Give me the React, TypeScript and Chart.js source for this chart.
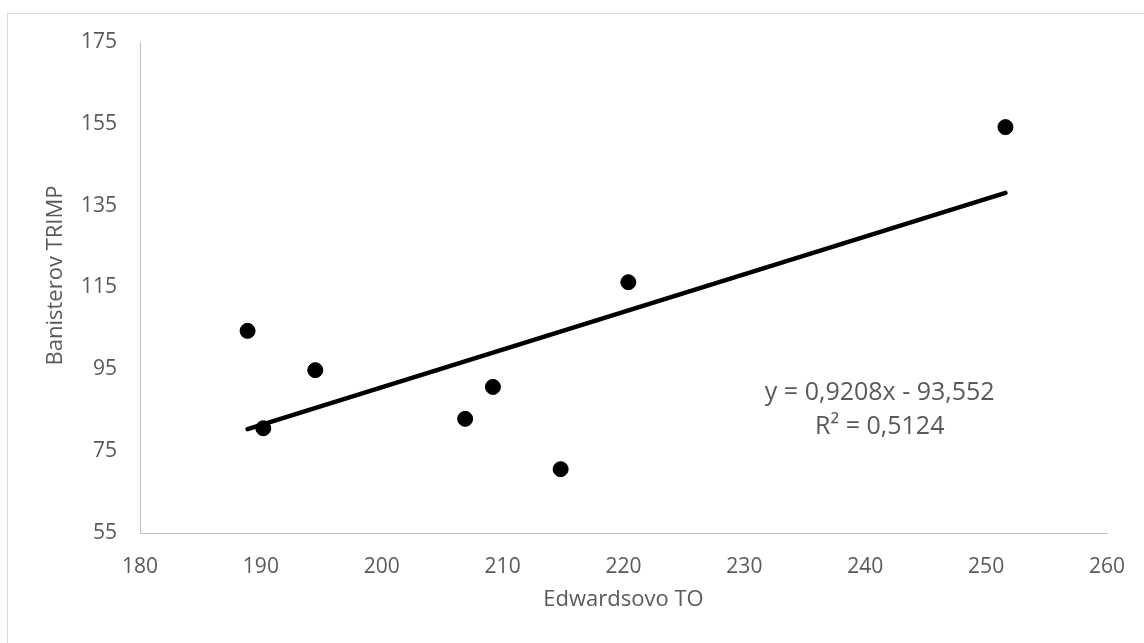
import React, { useEffect, useRef } from "react";
import { Chart, registerables } from "chart.js";

Chart.register(...registerables);

// Data
const edwardsTO = [188.9, 190.2, 194.5, 206.9, 209.2, 214.8, 220.4, 251.6];
const banisterTRIMP = [104.4, 80.6, 94.8, 82.9, 90.7, 70.6, 116.3, 154.2];
const trendSlope = 0.9208;
const trendIntercept = -93.552;
const equationLines = ["y = 0,9208x - 93,552", "R² = 0,5124"];
const equationAnchor = [241.2, 89.2];
const xAxisTitle = "Edwardsovo TO";
const yAxisTitle = "Banisterov TRIMP";
const xRange = [180, 260, 10];
const yRange = [55, 175, 20];

const TEXT = "#595959";
const AXIS = "#bfbfbf";
const FONT = "'Open Sans', 'DejaVu Sans', sans-serif";

export default function App() {
  const canvasRef = useRef<HTMLCanvasElement | null>(null);

  useEffect(() => {
    document.body.style.margin = "0";
    const canvas = canvasRef.current;
    if (!canvas) return;

    const points = edwardsTO.map((x, i) => ({ x, y: banisterTRIMP[i] }));
    const xMin = Math.min(...edwardsTO);
    const xMax = Math.max(...edwardsTO);
    const trend = [
      { x: xMin, y: trendSlope * xMin + trendIntercept },
      { x: xMax, y: trendSlope * xMax + trendIntercept },
    ];

    const textPlugin = {
      id: "texts",
      afterDatasetsDraw(chart: any) {
        const { ctx, scales } = chart;
        const cx = scales.x.getPixelForValue(equationAnchor[0]);
        const cy = scales.y.getPixelForValue(equationAnchor[1]);
        ctx.save();
        ctx.fillStyle = TEXT;
        ctx.font = `25px ${FONT}`;
        ctx.textAlign = "center";
        ctx.textBaseline = "middle";
        equationLines.forEach((line, i) => {
          ctx.fillText(line, cx, cy + i * 34);
        });
        // y axis title
        ctx.translate(56, (scales.y.top + scales.y.bottom) / 2 - 12);
        ctx.rotate(-Math.PI / 2);
        ctx.font = `22px ${FONT}`;
        ctx.fillText(yAxisTitle, 0, 0);
        ctx.restore();
      },
    };

    const chart = new Chart(canvas, {
      type: "scatter",
      data: {
        datasets: [
          {
            type: "line",
            label: "Trend",
            data: trend,
            borderColor: "#000000",
            borderWidth: 4.5,
            borderCapStyle: "round",
            pointRadius: 0,
            fill: false,
            order: 1,
          } as any,
          {
            type: "scatter",
            label: "TRIMP",
            data: points,
            backgroundColor: "#000000",
            borderColor: "#000000",
            pointRadius: 7.5,
            pointHoverRadius: 7.5,
            order: 2,
          },
        ],
      },
      options: {
        responsive: false,
        animation: false,
        devicePixelRatio: 1,
        layout: { padding: { left: 0, top: 42, right: 37, bottom: 0 } },
        plugins: {
          legend: { display: false },
          tooltip: { enabled: false },
        },
        scales: {
          x: {
            type: "linear",
            min: xRange[0],
            max: xRange[1],
            ticks: {
              stepSize: xRange[2],
              color: TEXT,
              font: { family: FONT, size: 21 },
              padding: 21,
              callback: (v: any) => String(v),
            },
            grid: { display: false, drawTicks: false },
            border: { display: true, color: AXIS, width: 1 },
            title: {
              display: true,
              text: xAxisTitle,
              color: TEXT,
              font: { family: FONT, size: 22 },
              padding: { top: 0, bottom: 30 },
            },
            afterFit: (scale: any) => {
              scale.height = 110;
              scale.paddingLeft = 0;
              scale.paddingRight = 0;
            },
          },
          y: {
            type: "linear",
            min: yRange[0],
            max: yRange[1],
            ticks: {
              stepSize: yRange[2],
              color: TEXT,
              font: { family: FONT, size: 21 },
              padding: 23,
              callback: (v: any) => String(v),
            },
            grid: { display: false, drawTicks: false },
            border: { display: true, color: AXIS, width: 1 },
            title: { display: false },
            afterFit: (scale: any) => {
              scale.width = 140;
              scale.paddingTop = 0;
              scale.paddingBottom = 0;
            },
          },
        },
      },
      plugins: [textPlugin],
    });

    return () => chart.destroy();
  }, []);

  return (
    <div style={{ position: "fixed", left: 0, top: 0, width: 1144, height: 643, background: "#ffffff", overflow: "hidden" }}>
      <div
        style={{
          position: "absolute",
          left: 7,
          top: 13,
          right: -2,
          bottom: -2,
          borderLeft: "1px solid #d9d9d9",
          borderTop: "1px solid #d9d9d9",
        }}
      />
      <canvas
        ref={canvasRef}
        width={1144}
        height={643}
        style={{ position: "absolute", left: 0, top: 0, width: 1144, height: 643 }}
      />
    </div>
  );
}
